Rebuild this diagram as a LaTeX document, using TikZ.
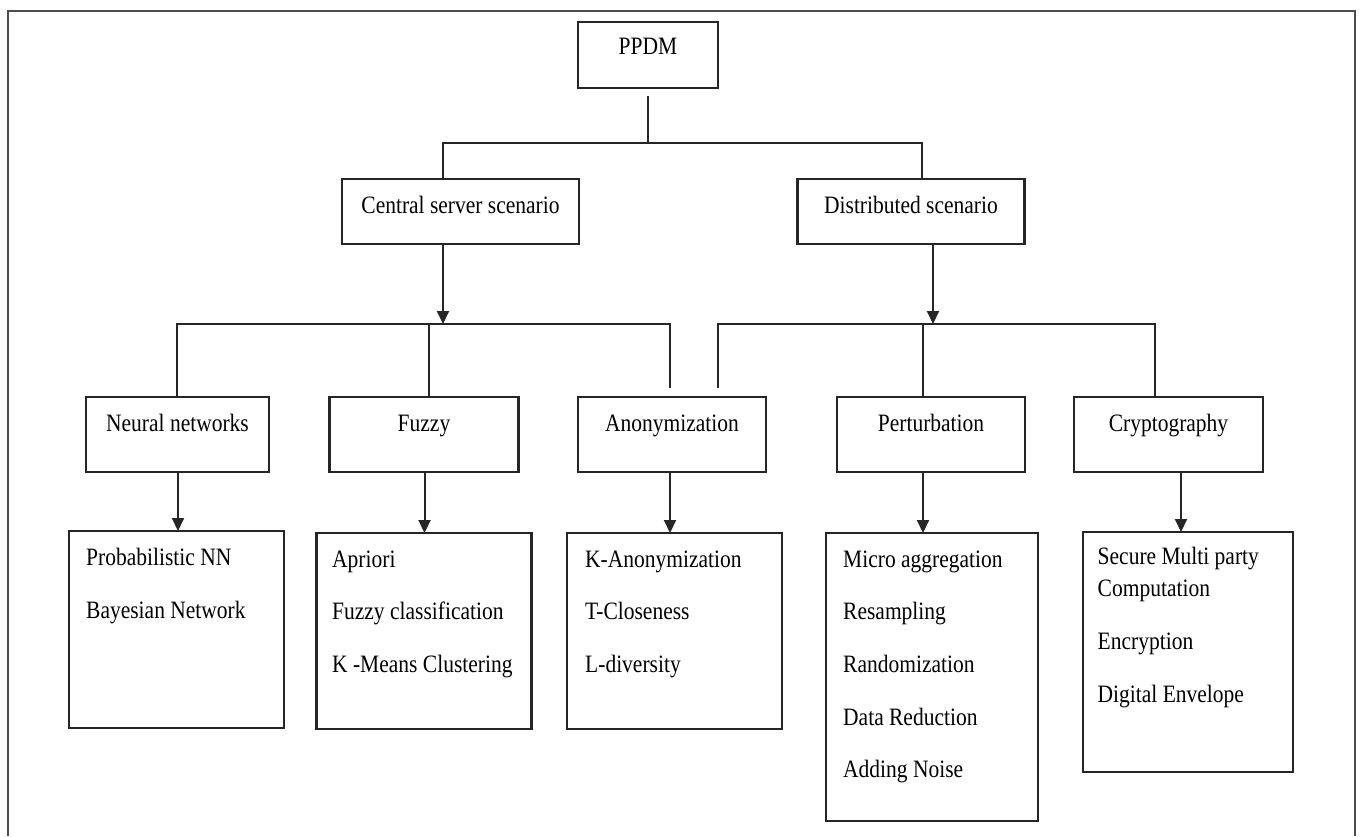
\documentclass[tikz,border=0pt]{standalone}
\usepackage{fontspec}
\setmainfont{Liberation Serif}[FakeStretch=0.86]
\usetikzlibrary{arrows.meta}
\begin{document}
\begin{tikzpicture}[x=1pt,y=-1pt,
  box/.style={draw=black!85,line width=2.2pt,inner sep=0pt,outer sep=0pt,fill=none},
  conn/.style={draw=black!85,line width=2pt},
  arr/.style={conn,-{Triangle[length=13pt,width=12pt]}},
  lbl/.style={anchor=base,inner sep=0pt,font=\fontsize{25}{30}\selectfont},
  item/.style={anchor=base west,inner sep=0pt,font=\fontsize{25}{30}\selectfont},
  frame/.style={draw=black!70,line width=2pt}]
\useasboundingbox (0,0) rectangle (1363,836);
\draw[frame] (8,836) -- (8,11) -- (1355,11) -- (1355,836);

% level 1
\node[box,minimum width=140pt,minimum height=66pt] (ppdm) at (648,55) {};
% level 2
\node[box,minimum width=237pt,minimum height=65pt] (central) at (460.5,211.5) {};
\node[box,minimum width=227pt,minimum height=65pt] (distr) at (911,211.5) {};
% level 3
\node[box,minimum width=183pt,minimum height=75pt] (neural) at (177.5,434.5) {};
\node[box,minimum width=189pt,minimum height=75pt] (fuzzy) at (424,434.5) {};
\node[box,minimum width=188pt,minimum height=75pt] (anon) at (672,434.5) {};
\node[box,minimum width=188pt,minimum height=75pt] (pert) at (931,434.5) {};
\node[box,minimum width=189pt,minimum height=75pt] (crypto) at (1168.5,434.5) {};
% level 4
\node[box,minimum width=215pt,minimum height=197pt] (neuralL) at (176.5,629.5) {};
\node[box,minimum width=215pt,minimum height=196pt] (fuzzyL) at (424,631) {};
\node[box,minimum width=215pt,minimum height=196pt] (anonL) at (674.5,631) {};
\node[box,minimum width=212pt,minimum height=288pt] (pertL) at (932,677) {};
\node[box,minimum width=210pt,minimum height=240pt] (cryptoL) at (1188,652) {};

% labels
\node[lbl] (tppdm) at ([yshift=-32pt]ppdm.north) {PPDM};
\node[lbl] (tcentral) at ([yshift=-34pt]central.north) {Central server scenario};
\node[lbl] (tdistr) at ([yshift=-34pt]distr.north) {Distributed scenario};
\node[lbl] (tneural) at ([yshift=-34pt]neural.north) {Neural networks};
\node[lbl] (tfuzzy) at ([yshift=-34pt]fuzzy.north) {Fuzzy};
\node[lbl] (tanon) at ([yshift=-34pt]anon.north) {Anonymization};
\node[lbl] (tpert) at ([yshift=-34pt]pert.north) {Perturbation};
\node[lbl] (tcrypto) at ([yshift=-34pt]crypto.north) {Cryptography};

% list items
\node[item] (n1) at (86,565) {Probabilistic NN};
\node[item] (n2) at (86,618) {Bayesian Network};
\node[item] (f1) at (332,567) {Apriori};
\node[item] (f2) at (332,619) {Fuzzy classification};
\node[item] (f3) at (332,672) {K -Means Clustering};
\node[item] (a1) at (585,567) {K-Anonymization};
\node[item] (a2) at (585,619) {T-Closeness};
\node[item] (a3) at (585,672) {L-diversity};
\node[item] (p1) at (843,567) {Micro aggregation};
\node[item] (p2) at (843,619) {Resampling};
\node[item] (p3) at (843,672) {Randomization};
\node[item] (p4) at (843,725) {Data Reduction};
\node[item] (p5) at (843,777) {Adding Noise};
\node[item] (c1) at (1097.5,564) {Secure Multi party};
\node[item] (c2) at (1097.5,596) {Computation};
\node[item] (c3) at (1097.5,649) {Encryption};
\node[item] (c4) at (1097.5,702) {Digital Envelope};

% junction coordinates
\coordinate (j1) at (648,143);
\coordinate (j1l) at (443,143);
\coordinate (j1r) at (922,143);
\coordinate (j2) at (443,324);
\coordinate (j2l) at (177,324);
\coordinate (j2f) at (428.5,324);
\coordinate (j2r) at (670,324);
\coordinate (j2e) at (670,388);
\coordinate (j3) at (933,324);
\coordinate (j3l) at (718,324);
\coordinate (j3e) at (718,388);
\coordinate (j3p) at (923,324);
\coordinate (j3r) at (1155,324);

% connectors level 1 -> 2
\draw[conn] ([yshift=-8pt]ppdm.south) -- (j1);
\draw[conn] (central.north -| j1l) -- (j1l) -- (j1r) -- (distr.north -| j1r);
% level 2 -> 3 (central)
\draw[arr] (central.south -| j2) -- (j2);
\draw[conn] (neural.north -| j2l) -- (j2l) -- (j2r) -- (j2e);
\draw[conn] (fuzzy.north -| j2f) -- (j2f);
% level 2 -> 3 (distributed)
\draw[arr] (distr.south -| j3) -- (j3);
\draw[conn] (j3e) -- (j3l) -- (j3r) -- (crypto.north -| j3r);
\draw[conn] (pert.north -| j3p) -- (j3p);
% level 3 -> 4
\draw[arr] (neural.south -| 178,0) -- (neuralL.north -| 178,0);
\draw[arr] (fuzzy.south -| 424.5,0) -- (fuzzyL.north -| 424.5,0);
\draw[arr] (anon.south -| 670,0) -- (anonL.north -| 670,0);
\draw[arr] (pert.south -| 923,0) -- (pertL.north -| 923,0);
\draw[arr] (crypto.south -| 1181,0) -- (cryptoL.north -| 1181,0);
\end{tikzpicture}
\end{document}
